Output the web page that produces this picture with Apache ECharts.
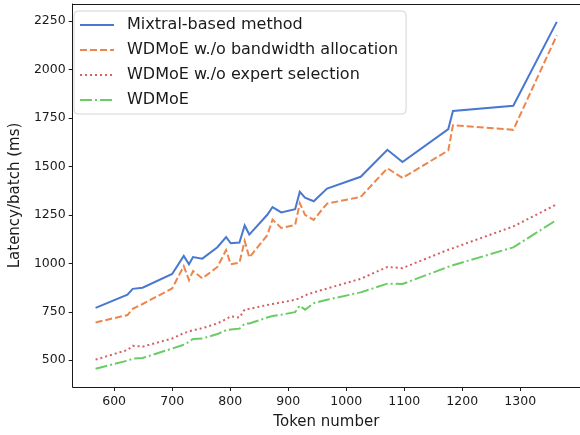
<!DOCTYPE html>
<html>
<head>
<meta charset="utf-8">
<title>Latency per batch vs token number</title>
<script src="https://cdn.jsdelivr.net/npm/echarts@6/dist/echarts.min.js"></script>
<style>
  html, body { margin: 0; padding: 0; background: #fff; }
  #chart { width: 580px; height: 435px; }
</style>
</head>
<body>
<div id="chart"></div>
<script>
// Token counts per batch (x) and measured latency per batch in ms (y)
const tokens = [568, 623, 632, 649, 700, 720, 729, 736, 752, 778, 793, 801, 816, 825, 833,
                864, 873, 888, 912, 920, 929, 944, 967, 1025, 1071, 1097, 1176, 1184, 1288, 1363];

const mixtralBased = [770, 838, 868, 874, 945, 1038, 995, 1032, 1024, 1083, 1135, 1103, 1107, 1195, 1148,
                      1250, 1290, 1262, 1279, 1368, 1338, 1320, 1385, 1446, 1585, 1522, 1692, 1785, 1812, 2245];

const noBandwidthAlloc = [695, 733, 765, 790, 870, 985, 913, 960, 922, 981, 1068, 995, 1003, 1115, 1030,
                          1145, 1225, 1182, 1198, 1310, 1250, 1224, 1308, 1342, 1490, 1440, 1582, 1712, 1688, 2175];

const noExpertSelection = [503, 553, 575, 570, 612, 640, 648, 655, 665, 690, 712, 726, 720, 762, 765,
                           785, 790, 798, 812, 820, 835, 850, 870, 920, 981, 975, 1070, 1078, 1190, 1304];

const wdmoe = [456, 498, 508, 512, 560, 580, 595, 610, 612, 635, 655, 658, 663, 688, 690,
               720, 728, 735, 748, 782, 760, 794, 812, 850, 895, 893, 982, 990, 1082, 1224];

const seriesNames = ['Mixtral-based method', 'WDMoE w./o bandwidth allocation',
                     'WDMoE w./o expert selection', 'WDMoE'];

const xTicks = [600, 700, 800, 900, 1000, 1100, 1200, 1300];
const yTicks = [500, 750, 1000, 1250, 1500, 1750, 2000, 2250];

const FONT = 'DejaVu Sans';
const INK = '#1a1a1a';

function pairs(ys) {
  return tokens.map((t, i) => [t, ys[i]]);
}

function lineSeries(name, ys, color, type) {
  return {
    name: name,
    type: 'line',
    data: pairs(ys),
    symbol: 'none',
    showSymbol: false,
    smooth: false,
    animation: false,
    lineStyle: { color: color, width: 2, type: type, cap: 'butt', join: 'miter' },
    itemStyle: { color: color }
  };
}

const plainNumber = v => String(Math.round(v));

const chart = echarts.init(document.getElementById('chart'), null, { renderer: 'canvas' });

chart.setOption({
  animation: false,
  backgroundColor: '#ffffff',
  grid: { left: 65, top: 4, width: 521, height: 388, containLabel: false },
  xAxis: [{
    type: 'value',
    min: 528.6,
    max: 1403,
    name: 'Token number',
    nameLocation: 'middle',
    nameGap: 28,
    nameTextStyle: { fontFamily: FONT, fontSize: 15, color: INK },
    axisLine: { show: true, onZero: false, lineStyle: { color: INK, width: 1 } },
    axisTick: { show: true, length: 4, inside: false, customValues: xTicks, lineStyle: { color: INK } },
    axisLabel: { fontFamily: FONT, fontSize: 12.5, color: INK, margin: 8, customValues: xTicks, formatter: plainNumber },
    splitLine: { show: false }
  }, {
    type: 'value',
    position: 'top',
    min: 528.6,
    max: 1403,
    axisLine: { show: true, onZero: false, lineStyle: { color: INK, width: 1 } },
    axisTick: { show: false },
    axisLabel: { show: false },
    splitLine: { show: false }
  }],
  yAxis: {
    type: 'value',
    min: 362,
    max: 2337,
    name: 'Latency/batch (ms)',
    nameLocation: 'middle',
    nameGap: 42,
    nameRotate: 90,
    nameTextStyle: { fontFamily: FONT, fontSize: 15, color: INK },
    axisLine: { show: true, onZero: false, lineStyle: { color: INK, width: 1 } },
    axisTick: { show: true, length: 4, inside: false, customValues: yTicks, lineStyle: { color: INK } },
    axisLabel: { fontFamily: FONT, fontSize: 12.5, color: INK, margin: 7, customValues: yTicks, formatter: plainNumber },
    splitLine: { show: false }
  },
  legend: {
    show: true,
    orient: 'vertical',
    left: 74,
    top: 11,
    itemWidth: 34,
    itemHeight: 14,
    itemGap: 9,
    padding: [6, 8, 6, 5],
    borderColor: '#d4d4d4',
    borderWidth: 1,
    borderRadius: 4,
    backgroundColor: 'rgba(255,255,255,0.8)',
    itemStyle: { opacity: 0 },
    lineStyle: { width: 2 },
    textStyle: { fontFamily: FONT, fontSize: 16, color: INK, padding: [0, 0, 0, 8], lineHeight: 16 },
    data: seriesNames.map(n => ({ name: n }))
  },
  series: [
    lineSeries(seriesNames[0], mixtralBased, '#4878d0', 'solid'),
    lineSeries(seriesNames[1], noBandwidthAlloc, '#ee854a', [7, 3]),
    lineSeries(seriesNames[2], noExpertSelection, '#d65f5f', [2, 3]),
    lineSeries(seriesNames[3], wdmoe, '#6acc64', [12, 3, 2, 3])
  ]
});
</script>
</body>
</html>
